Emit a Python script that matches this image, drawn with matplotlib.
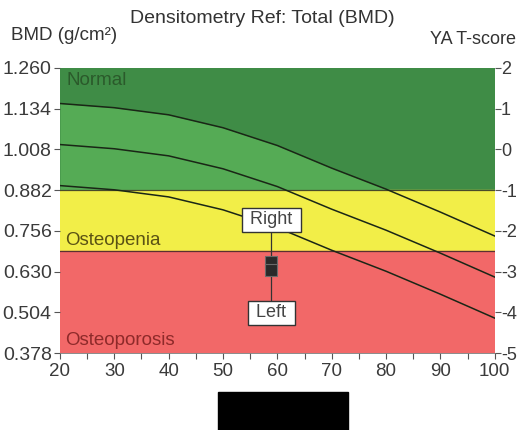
import matplotlib.pyplot as plt
from matplotlib.patches import Rectangle
import numpy as np

plt.rcParams['font.family'] = ['Liberation Sans', 'DejaVu Sans']
plt.rcParams['axes.unicode_minus'] = False

# reference curve (upper line)
ages = [20, 30, 40, 50, 60, 70, 80, 90, 100]
ref_upper = [1.150, 1.137, 1.115, 1.075, 1.020, 0.950, 0.885, 0.814, 0.740]
sd = 0.127

bmd_ticks = [1.260, 1.134, 1.008, 0.882, 0.756, 0.630, 0.504, 0.378]
t_ticks = [2, 1, 0, -1, -2, -3, -4, -5]
osteopenia_top = 0.882
osteoporosis_top = 0.693

patient_age = 58.9
right_bmd = 0.660
left_bmd = 0.634

upper = np.array(ref_upper)
middle = upper - sd
lower = upper - 2 * sd

fig = plt.figure(figsize=(5.17, 4.30), dpi=100)
ax = fig.add_axes([0.116, 0.179, 0.841, 0.663])

ax.axhspan(osteopenia_top, 1.260, color="#3f8c46", zorder=0)
ax.fill_between(ages, osteopenia_top, upper, where=upper >= osteopenia_top,
                interpolate=True, color="#55ab55", zorder=1, lw=0)
ax.axhspan(osteoporosis_top, osteopenia_top, color="#f2ee48", zorder=0)
ax.axhspan(0.378, osteoporosis_top, color="#f26868", zorder=0)
ax.axhline(osteopenia_top, color="#4a4a2a", lw=0.9, zorder=2)
ax.axhline(osteoporosis_top, color="#5a3030", lw=0.9, zorder=2)

for curve in (upper, middle, lower):
    ax.plot(ages, curve, color="#1a2616", lw=1.1, zorder=3)

ax.text(21.2, 1.207, "Normal", fontsize=13.5, color="#2b5a2b", va="baseline")
ax.text(21.0, 0.712, "Osteopenia", fontsize=13.5, color="#5a5214", va="baseline")
ax.text(21.0, 0.403, "Osteoporosis", fontsize=13.5, color="#8e2a2a", va="baseline")

# patient
ax.plot([patient_age, patient_age], [0.790, 0.503], color="#333333", lw=0.9, zorder=4)
ax.plot([patient_age, patient_age], [right_bmd, left_bmd], ls="none", marker="s",
        ms=8, color="#2a2a2a", mec="#6a6a6a", mew=0.8, zorder=5)
box = dict(boxstyle="square,pad=0.2", fc="white", ec="#333333", lw=1)
ax.text(patient_age, 0.790, " Right ", fontsize=13, color="#444444", ha="center",
        va="center", bbox=box, zorder=6)
ax.text(patient_age, 0.503, " Left ", fontsize=13, color="#444444", ha="center",
        va="center", bbox=box, zorder=6)

ax.set_xlim(20, 100)
ax.set_ylim(0.378, 1.260)
ax.set_xticks(range(20, 101, 10))
ax.set_xticks(range(25, 100, 10), minor=True)
ax.set_yticks(bmd_ticks)
ax.set_yticklabels(["%.3f" % v for v in bmd_ticks])
ax.tick_params(axis="y", labelsize=14, colors="#555555", labelcolor="#3a3a3a",
               length=4, width=0.8, pad=2)
ax.tick_params(axis="x", labelsize=13.5, colors="#555555", labelcolor="#3a3a3a",
               length=4, width=0.8, pad=3)
ax.tick_params(axis="x", which="minor", length=4, width=0.8, colors="#555555")
for s in ax.spines.values():
    s.set_visible(False)
ax.spines["bottom"].set_visible(True)
ax.spines["bottom"].set_color("#777777")
ax.spines["bottom"].set_linewidth(0.6)

ax2 = ax.twinx()
ax2.set_ylim(-5, 2)
ax2.set_yticks(t_ticks)
ax2.tick_params(axis="y", labelsize=13, colors="#555555", labelcolor="#3a3a3a",
                length=4, width=0.8, pad=0.5)
for s in ax2.spines.values():
    s.set_visible(False)

fig.text(0.508, 0.958, "Densitometry Ref: Total (BMD)", fontsize=14,
         color="#333333", ha="center", va="center")
fig.text(0.022, 0.918, "BMD (g/cm²)", fontsize=13.5, color="#333333", va="center")
fig.text(0.998, 0.909, "YA T-score", fontsize=13, color="#333333", ha="right", va="center")

fig.patches.append(Rectangle((0.422, 0.0), 0.251, 0.088, transform=fig.transFigure,
                             color="black", zorder=10))

fig.savefig("out.png", dpi=100)
